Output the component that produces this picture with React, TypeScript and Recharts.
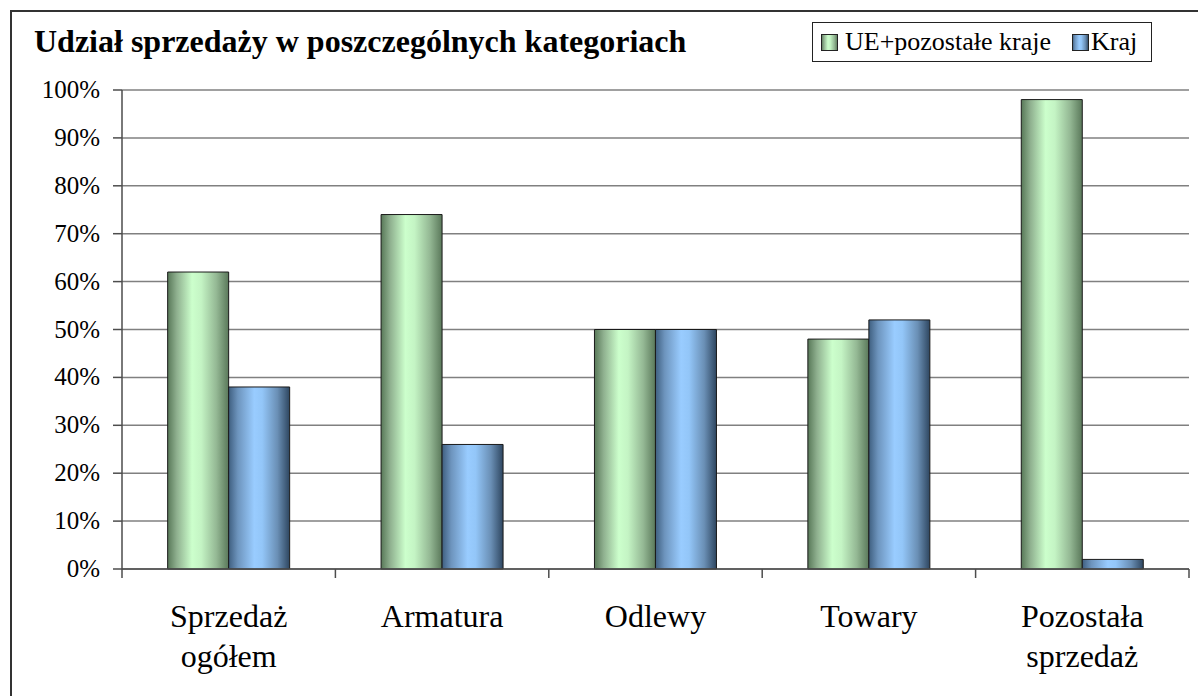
import React from 'react';
import { BarChart, Bar, XAxis, YAxis, CartesianGrid } from 'recharts';

const categories = ['Sprzedaż ogółem', 'Armatura', 'Odlewy', 'Towary', 'Pozostała sprzedaż'];
const categoryLines = [['Sprzedaż', 'ogółem'], ['Armatura'], ['Odlewy'], ['Towary'], ['Pozostała', 'sprzedaż']];
const ueValues = [62, 74, 50, 48, 98];
const krajValues = [38, 26, 50, 52, 2];
const yTicks = [0, 10, 20, 30, 40, 50, 60, 70, 80, 90, 100];
const seriesNames = ['UE+pozostałe kraje', 'Kraj'];
const title = 'Udział sprzedaży w poszczególnych kategoriach';

const data = categories.map((c, i) => ({ name: c, ue: ueValues[i], kraj: krajValues[i] }));

const FONT = 'Liberation Serif, Times New Roman, serif';

const XTick = (props: any) => {
  const { x, y, payload, index, width } = props;
  const bw = width / categories.length;
  const lines = categoryLines[payload.index ?? index] || [String(payload.value)];
  return (
    <g>
      <line x1={x - bw / 2} y1={y} x2={x - bw / 2} y2={y + 9} stroke="#4d4d4d" strokeWidth={1.5} />
      {index === categories.length - 1 && (
        <line x1={x + bw / 2} y1={y} x2={x + bw / 2} y2={y + 9} stroke="#4d4d4d" strokeWidth={1.5} />
      )}
      {lines.map((l, i) => (
        <text key={i} x={x} y={y + 58 + i * 40} textAnchor="middle" fontFamily={FONT} fontSize={32} fill="#000">
          {l}
        </text>
      ))}
    </g>
  );
};

const YTick = (props: any) => {
  const { x, y, payload } = props;
  return (
    <text x={x} y={y} dy={8} textAnchor="end" fontFamily={FONT} fontSize={25} fill="#000">
      {`${payload.value}%`}
    </text>
  );
};

const Swatch = ({ id }: { id: string }) => (
  <svg width={17} height={17} style={{ display: 'block' }}>
    <rect x={0.5} y={0.5} width={16} height={16} fill={`url(#${id})`} stroke="#222" strokeWidth={1} />
  </svg>
);

const GradDefs = ({ idG, idB }: { idG: string; idB: string }) => (
  <>
    <linearGradient id={idG} x1="0" y1="0" x2="1" y2="0">
      <stop offset="0" stopColor="#587858" />
      <stop offset="0.15" stopColor="#8fb08f" />
      <stop offset="0.4" stopColor="#ccffcc" />
      <stop offset="0.55" stopColor="#c4f4c4" />
      <stop offset="0.8" stopColor="#94b894" />
      <stop offset="1" stopColor="#5a785a" />
    </linearGradient>
    <linearGradient id={idB} x1="0" y1="0" x2="1" y2="0">
      <stop offset="0" stopColor="#3f5f80" />
      <stop offset="0.15" stopColor="#6d94bd" />
      <stop offset="0.42" stopColor="#99ccff" />
      <stop offset="0.55" stopColor="#93c6f8" />
      <stop offset="0.8" stopColor="#6a8fb5" />
      <stop offset="1" stopColor="#2e4660" />
    </linearGradient>
  </>
);

export default function App() {
  return (
    <div
      style={{
        position: 'absolute',
        left: 0,
        top: 0,
        width: 1198,
        height: 696,
        background: '#fff',
        overflow: 'hidden',
        fontFamily: FONT,
      }}
    >
      <svg width={0} height={0} style={{ position: 'absolute' }}>
        <defs>
          <GradDefs idG="lg-green" idB="lg-blue" />
        </defs>
      </svg>
      <div
        style={{
          position: 'absolute',
          left: 10,
          top: 10,
          width: 1300,
          height: 800,
          borderLeft: '2px solid #333',
          borderTop: '2px solid #333',
        }}
      />
      <div
        style={{
          position: 'absolute',
          left: 34,
          top: 22,
          fontFamily: FONT,
          fontWeight: 'bold',
          fontSize: 32,
          lineHeight: '38px',
          whiteSpace: 'nowrap',
          color: '#000',
        }}
      >
        {title}
      </div>
      <div
        style={{
          position: 'absolute',
          left: 812,
          top: 22,
          width: 330,
          height: 38,
          border: '1.5px solid #222',
          background: '#fff',
          fontFamily: FONT,
          fontSize: 26,
          display: 'flex',
          alignItems: 'center',
          paddingLeft: 8,
          whiteSpace: 'nowrap',
          color: '#000',
        }}
      >
        <Swatch id="lg-green" />
        <span style={{ marginLeft: 7, marginRight: 21 }}>{seriesNames[0]}</span>
        <Swatch id="lg-blue" />
        <span style={{ marginLeft: 2 }}>{seriesNames[1]}</span>
      </div>
      <div style={{ position: 'absolute', left: 0, top: 0 }}>
        <BarChart
          width={1198}
          height={696}
          data={data}
          margin={{ top: 90, right: 9, left: 0, bottom: 0 }}
          barCategoryGap="21.4%"
          barGap={0}
        >
          <defs>
            <GradDefs idG="bar-green" idB="bar-blue" />
          </defs>
          <CartesianGrid horizontal={true} vertical={false} stroke="#808080" strokeWidth={1.5} />
          <XAxis
            dataKey="name"
            height={127}
            axisLine={{ stroke: '#4d4d4d', strokeWidth: 1.5 }}
            tickLine={false}
            tickSize={0}
            tickMargin={0}
            interval={0}
            tick={<XTick />}
          />
          <YAxis
            width={122}
            domain={[0, 100]}
            ticks={yTicks}
            interval={0}
            axisLine={{ stroke: '#4d4d4d', strokeWidth: 1.5 }}
            tickLine={{ stroke: '#4d4d4d', strokeWidth: 1.5 }}
            tickSize={9}
            tickMargin={13}
            tick={<YTick />}
          />
          <YAxis
            yAxisId="r"
            orientation="right"
            width={0}
            domain={[0, 100]}
            tick={false}
            tickLine={false}
            axisLine={{ stroke: '#808080', strokeWidth: 1.5 }}
          />
          <Bar dataKey="ue" name={seriesNames[0]} fill="url(#bar-green)" stroke="#1a1a1a" strokeWidth={1} isAnimationActive={false} />
          <Bar dataKey="kraj" name={seriesNames[1]} fill="url(#bar-blue)" stroke="#1a1a1a" strokeWidth={1} isAnimationActive={false} />
        </BarChart>
      </div>
    </div>
  );
}
